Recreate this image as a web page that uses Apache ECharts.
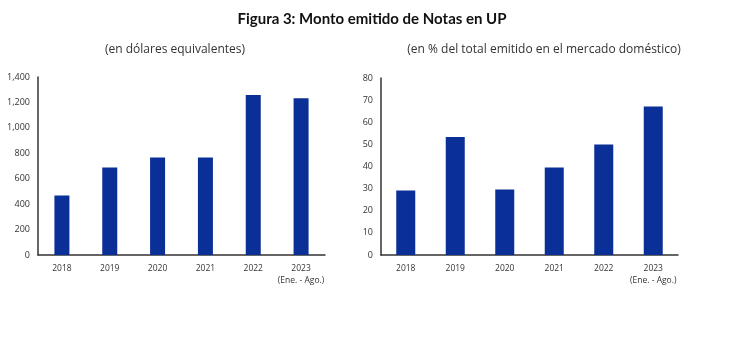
<!DOCTYPE html>
<html>
<head>
<meta charset="utf-8">
<script src="https://cdn.jsdelivr.net/npm/echarts@6/dist/echarts.min.js"></script>
<style>html,body{margin:0;padding:0;background:#fff;}#c{width:730px;height:347px;}</style>
</head>
<body>
<div id="c"></div>
<script>
const categories = ['2018', '2019', '2020', '2021', '2022', '2023\n(Ene. - Ago.)'];
const montoUSD = [468, 688, 766, 766, 1258, 1232];
const pctMercado = [29.2, 53.3, 29.6, 39.6, 50.0, 67.1];
const leftTicks = { min: 0, max: 1400, interval: 200 };
const rightTicks = { min: 0, max: 80, interval: 10 };

const chart = echarts.init(document.getElementById('c'), null, { renderer: 'canvas' });
const FONT = "'Open Sans', 'Liberation Sans', sans-serif";
const BAR = '#0a2f96';
const axisLine = { show: true, lineStyle: { color: '#333', width: 1.5 } };
const xAxisCommon = {
  type: 'category', data: categories,
  axisLine: axisLine, axisTick: { show: false },
  axisLabel: { color: '#333', fontSize: 8.5, fontFamily: FONT, margin: 8, lineHeight: 12, interval: 0 }
};
const yAxisCommon = {
  type: 'value', axisLine: axisLine, axisTick: { show: false }, splitLine: { show: false },
  axisLabel: { color: '#333', fontSize: 9, fontFamily: FONT, margin: 8 }
};
chart.setOption({
  animation: false,
  title: [
    { text: 'Figura 3: Monto emitido de Notas en UP', left: 367, top: 7, textAlign: 'center',
      textStyle: { fontSize: 15, fontWeight: 'bold', fontFamily: "'Lato', 'Noto Sans', sans-serif", color: '#111' } },
    { text: '(en dólares equivalentes)', left: 170, top: 39, textAlign: 'center',
      textStyle: { fontSize: 12, fontWeight: 'normal', fontFamily: FONT, color: '#333' } },
    { text: '(en % del total emitido en el mercado doméstico)', left: 539, top: 39, textAlign: 'center',
      textStyle: { fontSize: 12, fontWeight: 'normal', fontFamily: FONT, color: '#333' } }
  ],
  grid: [
    { left: 38, right: 405, top: 77, bottom: 92 },
    { left: 381, right: 52, top: 78, bottom: 92 }
  ],
  xAxis: [
    Object.assign({ gridIndex: 0 }, xAxisCommon),
    Object.assign({ gridIndex: 1 }, xAxisCommon)
  ],
  yAxis: [
    Object.assign({ gridIndex: 0 }, yAxisCommon, leftTicks, {
      axisLabel: Object.assign({}, yAxisCommon.axisLabel, { formatter: v => v.toLocaleString('en-US') }) }),
    Object.assign({ gridIndex: 1 }, yAxisCommon, rightTicks)
  ],
  series: [
    { type: 'bar', xAxisIndex: 0, yAxisIndex: 0, data: montoUSD, barWidth: 15, itemStyle: { color: BAR } },
    { type: 'bar', xAxisIndex: 1, yAxisIndex: 1, data: pctMercado, barWidth: 19, itemStyle: { color: BAR } }
  ]
});
</script>
</body>
</html>
